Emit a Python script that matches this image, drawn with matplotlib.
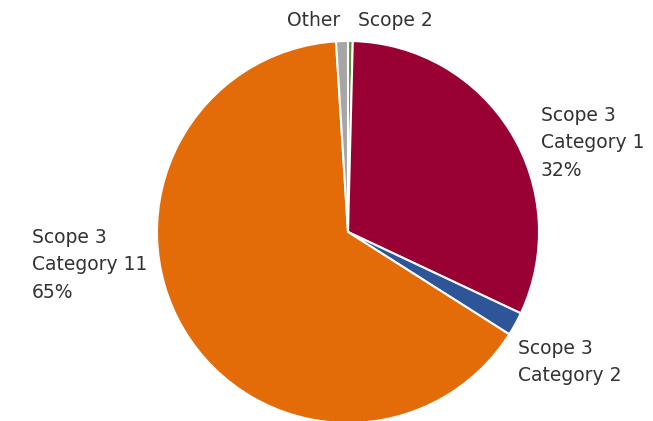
import matplotlib
matplotlib.use("Agg")
import matplotlib.pyplot as plt

labels = ["Scope 2", "Scope 3\nCategory 1\n32%", "Scope 3\nCategory 2",
          "Scope 3\nCategory 11\n65%", "Other"]
values = [0.4, 31.6, 2.0, 65.0, 1.0]
colors = ["#5A8F3C", "#990033", "#2E5597", "#E36C09", "#A6A6A6"]

W, H = 653, 421
fig = plt.figure(figsize=(W / 100, H / 100), dpi=100)

cx, cy, r = 348, 232, 191
ax = fig.add_axes([(cx - r) / W, (H - cy - r) / H, 2 * r / W, 2 * r / H])
ax.pie(values, colors=colors, startangle=90, counterclock=False,
       wedgeprops=dict(edgecolor="white", linewidth=1.5))
ax.set_aspect("equal")
ax.set_xlim(-1, 1)
ax.set_ylim(-1, 1)
ax.axis("off")

# label placement in pixels (left, centre of first line)
pitch = 28
label_pos = [(358, 21), (541, 115), (518, 348), (32, 237), (287, 21)]
for lab, (x, y) in zip(labels, label_pos):
    n = lab.count("\n")
    yc = y + n * pitch / 2
    fig.text(x / W, 1 - yc / H, lab, fontsize=13.5, color="#333333",
             ha="left", va="center", linespacing=1.58,
             fontfamily="DejaVu Sans")

fig.savefig("out.png", dpi=100)
